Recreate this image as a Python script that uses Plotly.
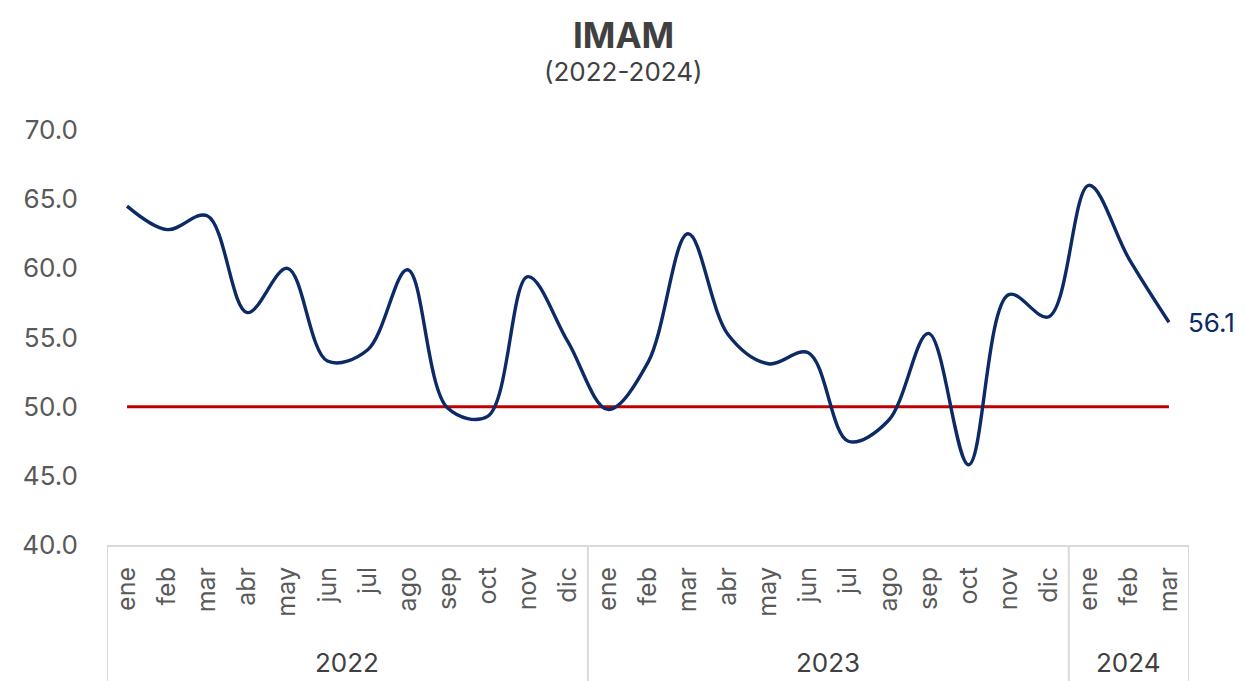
import plotly.graph_objects as go

months = ["ene", "feb", "mar", "abr", "may", "jun", "jul", "ago", "sep", "oct", "nov", "dic",
          "ene", "feb", "mar", "abr", "may", "jun", "jul", "ago", "sep", "oct", "nov", "dic",
          "ene", "feb", "mar"]
years = ["2022", "2023", "2024"]
year_counts = [12, 12, 3]
imam = [64.5, 62.8, 63.8, 56.8, 60.0, 53.3, 54.1, 59.9, 49.9, 49.3, 59.4, 54.7,
        49.8, 53.2, 62.5, 55.2, 53.1, 53.9, 47.5, 49.0, 55.3, 45.8, 58.1, 56.5,
        66.0, 60.7, 56.1]
threshold = [50.0] * len(months)
y_ticks = [40, 45, 50, 55, 60, 65, 70]

FONT = "Inter"
GRAY = "#595959"
DARK = "#404040"
NAVY = "#0b2a66"
xs = list(range(len(months)))

fig = go.Figure()
fig.add_trace(go.Scatter(x=xs, y=threshold, mode="lines",
                         line=dict(color="#c00000", width=3), hoverinfo="skip"))
fig.add_trace(go.Scatter(x=xs, y=imam, mode="lines",
                         line=dict(color=NAVY, width=3.4, shape="spline", smoothing=1.0)))

# page body has an 8px margin: compensate so the plot sits where the reference has it
OFF = 8
W, H = 1246 - OFF, 681 - OFF
ML, MR, MT, MB = 107 - OFF, 57, 130 - OFF, 136
H_PLOT = H - MT - MB
W_PLOT = W - ML - MR

bottom = -MB / H_PLOT
start = 0
boundaries = [-0.5]
for yr, n in zip(years, year_counts):
    center = start + (n - 1) / 2
    fig.add_annotation(x=center, y=-117 / H_PLOT, xref="x", yref="paper", text=yr,
                       showarrow=False, font=dict(family=FONT, size=26, color=DARK),
                       yanchor="middle", borderpad=0)
    start += n
    boundaries.append(start - 0.5)
for b in boundaries:
    fig.add_shape(type="line", xref="x", yref="paper", x0=b, x1=b, y0=0, y1=bottom,
                  line=dict(color="#d9d9d9", width=2))

fig.add_annotation(x=xs[-1], y=imam[-1], xref="x", yref="y", text=f"{imam[-1]:.1f}",
                   showarrow=False, xanchor="left", xshift=17,
                   font=dict(family=FONT, size=26, color=NAVY))

title_x = (623 - 107) / W_PLOT
fig.add_annotation(x=title_x, y=1 + (130 - 35) / H_PLOT, xref="paper", yref="paper",
                   text="<b>IMAM</b>", showarrow=False, yanchor="middle",
                   font=dict(family=FONT, size=35, color=DARK))
fig.add_annotation(x=title_x, y=1 + (130 - 72) / H_PLOT, xref="paper", yref="paper",
                   text="(2022-2024)", showarrow=False, yanchor="middle",
                   font=dict(family=FONT, size=26, color=DARK))

fig.update_layout(
    width=W, height=H,
    margin=dict(l=ML, r=MR, t=MT, b=MB),
    paper_bgcolor="white", plot_bgcolor="white",
    showlegend=False,
    xaxis=dict(range=[-0.5, len(months) - 0.5], tickmode="array", tickvals=xs, ticktext=months,
               tickangle=-90, showgrid=False, zeroline=False, showline=True,
               linecolor="#d9d9d9", linewidth=2, ticks="", ticklabelstandoff=10,
               tickfont=dict(family=FONT, size=25, color=GRAY)),
    yaxis=dict(range=[40, 70], tickmode="array", tickvals=y_ticks, tickformat=".1f",
               showgrid=False, zeroline=False, showline=False, ticks="",
               ticklabelstandoff=28,
               tickfont=dict(family=FONT, size=26, color=GRAY)),
)

fig.write_html("out.html")
